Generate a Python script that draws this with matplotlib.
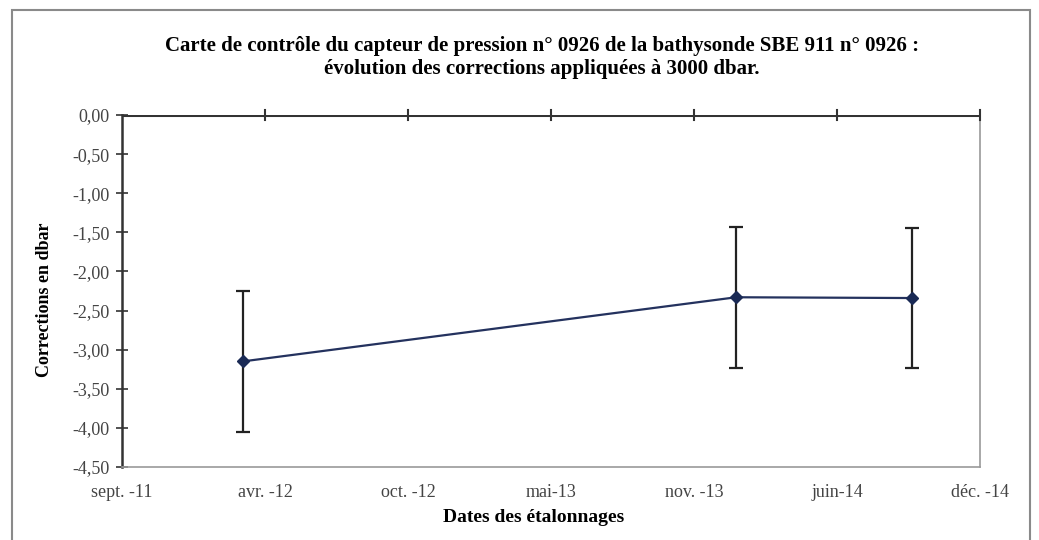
import datetime as dt

import matplotlib
matplotlib.use('Agg')
import matplotlib.dates as mdates
import matplotlib.pyplot as plt
from matplotlib.patches import Rectangle

dates = [dt.date(2012, 3, 2), dt.date(2014, 1, 21), dt.date(2014, 9, 24)]
corrections = [-3.15, -2.33, -2.34]
erreurs = [0.9, 0.9, 0.9]

x_min = dt.date(2011, 9, 15)
x_max = dt.date(2014, 12, 28)
x_pas = 200  # jours entre graduations
x_labels = ['sept. -11', 'avr. -12', 'oct. -12', 'mai-13', 'nov. -13', 'juin-14', 'déc. -14']
y_ticks = [0, -0.5, -1.0, -1.5, -2.0, -2.5, -3.0, -3.5, -4.0, -4.5]

plt.rcParams['font.family'] = ['Liberation Serif', 'DejaVu Serif']

fig = plt.figure(figsize=(10.39, 5.4), dpi=100)
# cadre extérieur
fig.patches.append(Rectangle((12 / 1039, -0.05), 1018 / 1039, 1.05 - 10 / 540,
                             transform=fig.transFigure, fill=False,
                             edgecolor='#8a8a8a', linewidth=1.5))

ax = fig.add_axes([122 / 1039, 1 - 467 / 540, 858 / 1039, 352 / 540])

x = mdates.date2num(dates)
ax.errorbar(x, corrections, yerr=erreurs, fmt='none', ecolor='#222222',
            elinewidth=1.6, capsize=5, capthick=1.6, zorder=2)
ax.plot(x, corrections, color='#24325e', linewidth=1.6, marker='D',
        markersize=6, markerfacecolor='#1a2a55', markeredgecolor='#1a2a55', zorder=3)

x0 = mdates.date2num(x_min)
x1 = mdates.date2num(x_max)
ax.set_xlim(x0, x1)
ax.set_ylim(-4.5, 0)

ticks = [x0 + x_pas * i for i in range(len(x_labels))]
ax.set_xticks(ticks)
ax.set_xticklabels(x_labels, fontsize=13, color='#444444')
ax.set_yticks(y_ticks)
ax.set_yticklabels([f'{v:.2f}'.replace('.', ',') for v in y_ticks], fontsize=13, color='#444444')

# axe des x au niveau 0 (en haut), étiquettes en bas
ax.tick_params(axis='x', length=0, pad=12)
for t in ticks[1:]:
    ax.plot([t, t], [-0.06, 0.06], color='#333333', linewidth=1.5, clip_on=False, zorder=4)
ax.axhline(0, color='#333333', linewidth=2.2, zorder=4)
ax.tick_params(axis='y', direction='inout', length=8, width=1.2, color='#333333', pad=5)

ax.spines['left'].set_color('#333333')
ax.spines['left'].set_linewidth(1.8)
ax.spines['top'].set_visible(False)
for s in ['right', 'bottom']:
    ax.spines[s].set_color('#9a9a9a')
    ax.spines[s].set_linewidth(1.2)

ax.set_xlabel('Dates des étalonnages', fontsize=14, fontweight='bold')
ax.xaxis.set_label_coords(0.48, -0.119)
ax.set_ylabel('Corrections en dbar', fontsize=13, fontweight='bold')
ax.yaxis.set_label_coords(-0.080, 0.474)

fig.text(542 / 1039, 1 - 46 / 540,
         'Carte de contrôle du capteur de pression n° 0926 de la bathysonde SBE 911 n° 0926 :',
         ha='center', va='center', fontsize=15, fontweight='bold')
fig.text(542 / 1039, 1 - 69 / 540,
         'évolution des corrections appliquées à 3000 dbar.',
         ha='center', va='center', fontsize=15, fontweight='bold')

fig.savefig('out.png', dpi=100)
